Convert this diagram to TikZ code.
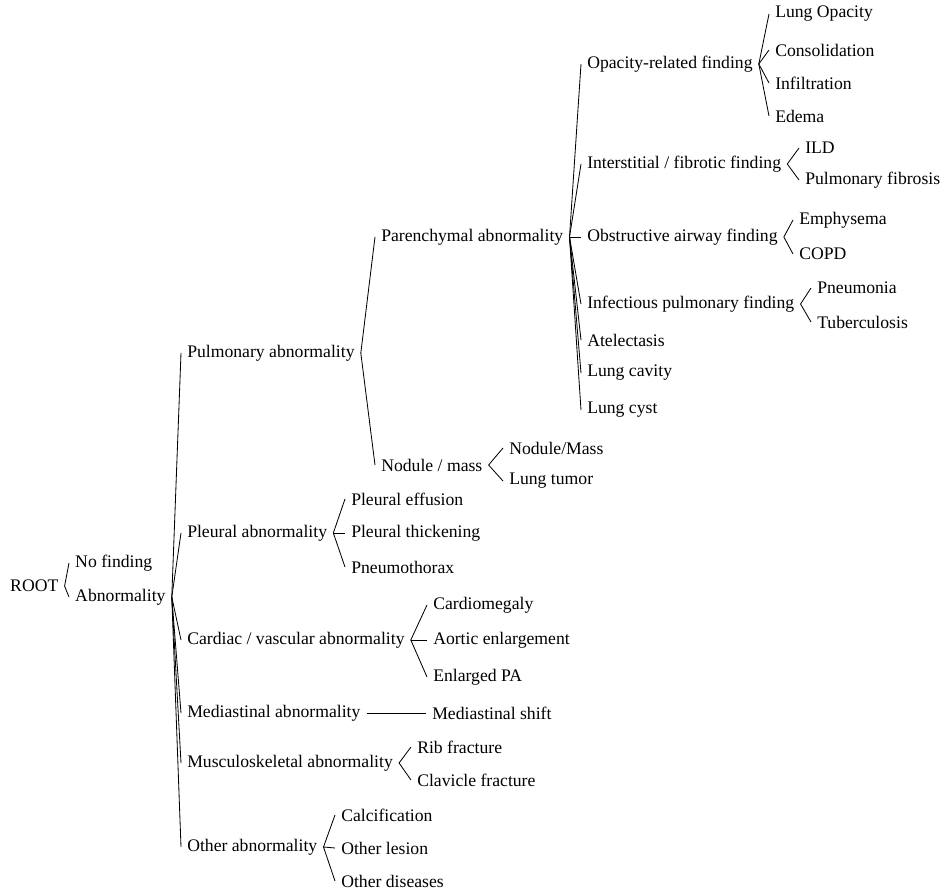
\documentclass[tikz,border=0pt]{standalone}
\usepackage{fontspec}
\setmainfont{Liberation Serif}
\usepackage{tikz}

\begin{document}
\begin{tikzpicture}[
    x = 0.6pt, y = -0.6pt,
    line width = 0.5pt,
    label/.style = {anchor = west,
      font = \fontsize{10.6}{12}\selectfont,
      inner xsep = 3.5pt, inner ysep = 1pt}
    ]
    \useasboundingbox (0, 0) rectangle (946, 894);

    % level 0 and 1
    \node at (4, 586) [label, name = root] {ROOT};
    \node at (69, 563) [label, name = nof] {No finding};
    \node at (69, 597) [label, name = abn] {Abnormality};

    % level 2
    \node at (181, 353) [label, name = pulm] {Pulmonary abnormality};
    \node at (181, 533) [label, name = pleu] {Pleural abnormality};
    \node at (181, 640) [label, name = card] {Cardiac / vascular abnormality};
    \node at (181, 713) [label, name = medi] {Mediastinal abnormality};
    \node at (181, 763) [label, name = musc] {Musculoskeletal abnormality};
    \node at (181, 847) [label, name = oth] {Other abnormality};

    % level 3
    \node at (375, 237) [label, name = par] {Parenchymal abnormality};
    \node at (375, 465) [label, name = nod] {Nodule / mass};

    % level 4
    \node at (581, 64) [label, name = opa] {Opacity-related finding};
    \node at (581, 164) [label, name = inte] {Interstitial / fibrotic finding};
    \node at (581, 237) [label, name = obs] {Obstructive airway finding};
    \node at (581, 304) [label, name = inf] {Infectious pulmonary finding};
    \node at (581, 340) [label, name = atel] {Atelectasis};
    \node at (581, 373) [label, name = cav] {Lung cavity};
    \node at (581, 410) [label, name = cyst] {Lung cyst};

    % leaves
    \node at (769, 14) [label, name = lop] {Lung Opacity};
    \node at (769, 50) [label, name = cons] {Consolidation};
    \node at (769, 83) [label, name = infl] {Infiltration};
    \node at (769, 116) [label, name = ede] {Edema};
    \node at (799, 148) [label, name = ild] {ILD};
    \node at (799, 180) [label, name = pfib] {Pulmonary fibrosis};
    \node at (793, 220) [label, name = emph] {Emphysema};
    \node at (793, 254) [label, name = copd] {COPD};
    \node at (811, 288) [label, name = pneu] {Pneumonia};
    \node at (811, 322) [label, name = tub] {Tuberculosis};
    \node at (503, 448) [label, name = nm] {Nodule/Mass};
    \node at (503, 481) [label, name = ltum] {Lung tumor};
    \node at (345, 499) [label, name = peff] {Pleural effusion};
    \node at (345, 533) [label, name = pthk] {Pleural thickening};
    \node at (345, 567) [label, name = ptx] {Pneumothorax};
    \node at (427, 605) [label, name = cmeg] {Cardiomegaly};
    \node at (427, 640) [label, name = aort] {Aortic enlargement};
    \node at (427, 677) [label, name = epa] {Enlarged PA};
    \node at (426, 713) [label, name = mshift] {Mediastinal shift};
    \node at (411, 747) [label, name = rib] {Rib fracture};
    \node at (411, 780) [label, name = clav] {Clavicle fracture};
    \node at (335, 815) [label, name = calc] {Calcification};
    \node at (335, 848) [label, name = oles] {Other lesion};
    \node at (335, 881) [label, name = odis] {Other diseases};

    \foreach \p/\c in {root/nof, root/abn,
        abn/pulm, abn/pleu, abn/card, abn/medi, abn/musc, abn/oth,
        pulm/par, pulm/nod,
        par/opa, par/inte, par/obs, par/inf, par/atel, par/cav, par/cyst,
        opa/lop, opa/cons, opa/infl, opa/ede,
        inte/ild, inte/pfib, obs/emph, obs/copd, inf/pneu, inf/tub,
        nod/nm, nod/ltum,
        pleu/peff, pleu/pthk, pleu/ptx,
        card/cmeg, card/aort, card/epa,
        medi/mshift, musc/rib, musc/clav,
        oth/calc, oth/oles, oth/odis}
      \draw (\p.east) -- (\c.west);

  \end{tikzpicture}
\end{document}
